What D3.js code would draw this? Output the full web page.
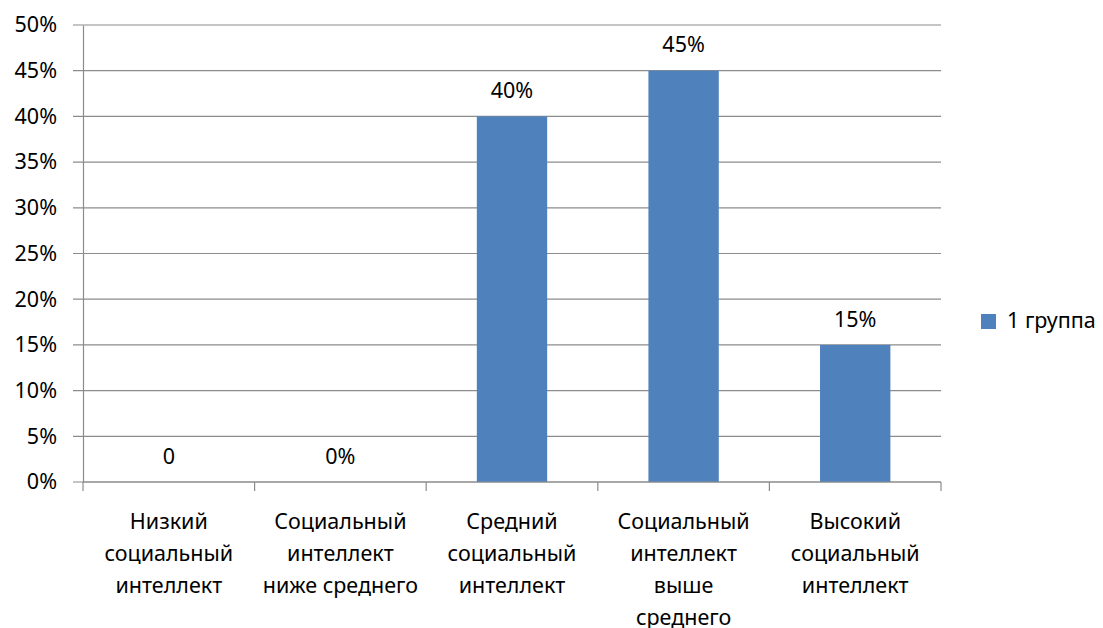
<!DOCTYPE html>
<html lang="ru">
<head>
<meta charset="utf-8">
<title>Социальный интеллект</title>
<script src="https://d3js.org/d3.v7.min.js"></script>
<style>
  body { margin: 0; background: #fff; }
  text { font-family: "Noto Sans", "Open Sans", sans-serif; fill: #000; }
</style>
</head>
<body>
<script>
// data
var categories = [
  ["Низкий", "социальный", "интеллект"],
  ["Социальный", "интеллект", "ниже среднего"],
  ["Средний", "социальный", "интеллект"],
  ["Социальный", "интеллект", "выше", "среднего"],
  ["Высокий", "социальный", "интеллект"]
];
var values = [0, 0, 40, 45, 15];
var valueLabels = ["0", "0%", "40%", "45%", "15%"];
var yTicks = [0, 5, 10, 15, 20, 25, 30, 35, 40, 45, 50];
var seriesName = "1 группа";

var w = 1103, h = 628;
var margin = {top: 25, right: 162, bottom: 146, left: 83};
var innerW = w - margin.left - margin.right;
var innerH = h - margin.top - margin.bottom;
var fs = "21.5px";

var svg = d3.select("body").append("svg")
    .attr("width", w)
    .attr("height", h);

var g = svg.append("g")
    .attr("transform", `translate(${margin.left},${margin.top})`);

var x = d3.scaleBand()
    .domain(d3.range(values.length))
    .range([0, innerW])
    .padding(0);

var y = d3.scaleLinear()
    .domain([0, 50])
    .range([innerH, 0]);

var barW = x.bandwidth() * 0.41;

// gridlines
g.selectAll(".grid")
    .data(yTicks)
  .enter().append("line")
    .attr("x1", -10)
    .attr("x2", innerW)
    .attr("y1", d => y(d))
    .attr("y2", d => y(d))
    .attr("stroke", "#8c8c8c")
    .attr("stroke-width", 1.2);

// y axis
var yAxis = d3.axisLeft(y)
    .tickValues(yTicks)
    .tickFormat(d => d + "%")
    .tickSize(0)
    .tickPadding(26);

g.append("g").call(yAxis)
    .call(s => s.select(".domain").attr("stroke", "#8c8c8c").attr("stroke-width", 1.2))
    .selectAll("text")
    .style("font-size", fs);

// bars
g.selectAll(".bar")
    .data(values)
  .enter().append("rect")
    .attr("x", (d, i) => x(i) + (x.bandwidth() - barW) / 2)
    .attr("y", d => y(d))
    .attr("width", barW)
    .attr("height", d => innerH - y(d))
    .attr("fill", "#4f81bd");

// value labels
g.selectAll(".lbl")
    .data(values)
  .enter().append("text")
    .attr("x", (d, i) => x(i) + x.bandwidth() / 2)
    .attr("y", d => y(d) - 24)
    .attr("text-anchor", "middle")
    .attr("dominant-baseline", "middle")
    .style("font-size", fs)
    .text((d, i) => valueLabels[i]);

// x axis
g.append("line")
    .attr("x1", 0).attr("x2", innerW)
    .attr("y1", innerH).attr("y2", innerH)
    .attr("stroke", "#8c8c8c").attr("stroke-width", 1.2);

g.selectAll(".xtick")
    .data(d3.range(values.length + 1))
  .enter().append("line")
    .attr("x1", d => d * x.step())
    .attr("x2", d => d * x.step())
    .attr("y1", innerH)
    .attr("y2", innerH + 9)
    .attr("stroke", "#8c8c8c").attr("stroke-width", 1.2);

var xl = g.selectAll(".xlab")
    .data(categories)
  .enter().append("text")
    .attr("text-anchor", "middle")
    .attr("transform", (d, i) => `translate(${x(i) + x.bandwidth() / 2},${innerH + 41})`)
    .style("font-size", fs);

xl.selectAll("tspan")
    .data(d => d)
  .enter().append("tspan")
    .attr("x", 0)
    .attr("y", (d, i) => i * 32)
    .attr("dominant-baseline", "middle")
    .text(d => d);

// legend
var leg = svg.append("g").attr("transform", "translate(981,314)");
leg.append("rect")
    .attr("width", 15).attr("height", 15)
    .attr("fill", "#4f81bd");
leg.append("text")
    .attr("x", 26).attr("y", 8)
    .attr("dominant-baseline", "middle")
    .style("font-size", fs)
    .text(seriesName);
</script>
</body>
</html>
